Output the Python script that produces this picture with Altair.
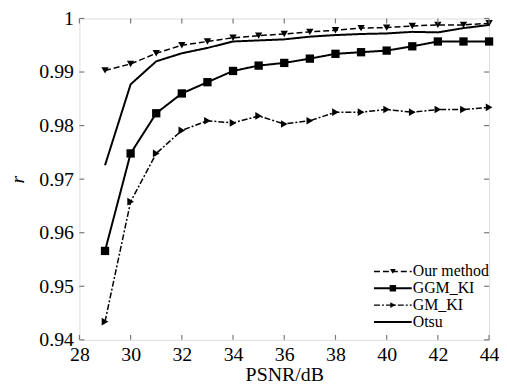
import altair as alt
import pandas as pd

psnr = list(range(29, 45))
our = [0.9903, 0.9915, 0.9935, 0.9950, 0.9957, 0.9964, 0.9968, 0.9971,
       0.9975, 0.9978, 0.9982, 0.9983, 0.9986, 0.9988, 0.9988, 0.9991]
ggm = [0.9566, 0.9748, 0.9823, 0.9860, 0.9881, 0.9902, 0.9912, 0.9917,
       0.9925, 0.9934, 0.9937, 0.9940, 0.9948, 0.9957, 0.9957, 0.9957]
gm = [0.9434, 0.9658, 0.9748, 0.9791, 0.9809, 0.9805, 0.9818, 0.9803,
      0.9809, 0.9825, 0.9825, 0.9830, 0.9825, 0.9830, 0.9830, 0.9834]
otsu = [0.9726, 0.9877, 0.9920, 0.9935, 0.9945, 0.9957, 0.9959, 0.9961,
        0.9966, 0.9969, 0.9971, 0.9972, 0.9975, 0.9974, 0.9982, 0.9988]

series_names = ["Our method", "GGM_KI", "GM_KI", "Otsu"]
x_ticks = [28, 30, 32, 34, 36, 38, 40, 42, 44]
y_ticks = [0.94, 0.95, 0.96, 0.97, 0.98, 0.99, 1.0]

W, H = 413, 324
FONT = "'Liberation Serif', 'Times New Roman', 'DejaVu Serif', serif"
GRAY = "#7a7a7a"

xs = alt.Scale(domain=[28, 44], nice=False, zero=False)
ys = alt.Scale(domain=[0.94, 1.0], nice=False, zero=False)

X = alt.X("x:Q", scale=xs,
          axis=alt.Axis(values=x_ticks, ticks=False, domain=False, grid=False,
                        labelFlush=False, labelFontSize=20, labelFont=FONT,
                        labelColor="black", labelPadding=5,
                        title="PSNR/dB", titleFont=FONT, titleFontSize=20,
                        titleFontWeight="normal", titleColor="black",
                        titlePadding=0))
Y = alt.Y("y:Q", scale=ys,
          axis=alt.Axis(values=y_ticks, format=".2~f", ticks=False, domain=False,
                        grid=False, labelFontSize=20, labelFont=FONT,
                        labelColor="black", labelPadding=6,
                        title="r", titleFont=FONT, titleFontSize=20,
                        titleFontStyle="italic", titleFontWeight="normal",
                        titleColor="black", titlePadding=11))

styles = {
    "Our method": dict(vals=our, dash=[6, 3], width=1.5, shape="triangle-down", size=55),
    "GGM_KI": dict(vals=ggm, dash=[1, 0], width=2, shape="square", size=70),
    "GM_KI": dict(vals=gm, dash=[6, 2, 2, 2], width=1.5, shape="triangle-right", size=60),
    "Otsu": dict(vals=otsu, dash=[1, 0], width=2, shape=None, size=0),
}

layers = []
for name in series_names:
    st = styles[name]
    df = pd.DataFrame({"x": psnr, "y": st["vals"]})
    layers.append(alt.Chart(df).mark_line(color="black", strokeWidth=st["width"],
                                          strokeDash=st["dash"]).encode(x=X, y=Y))
    if st["shape"]:
        layers.append(alt.Chart(df).mark_point(color="black", filled=True, opacity=1,
                                               shape=st["shape"], size=st["size"])
                      .encode(x=X, y=Y))

# inward ticks on all four sides
xt = pd.DataFrame({"x": x_ticks})
yt = pd.DataFrame({"y": y_ticks})
TL = 5
layers.append(alt.Chart(xt).mark_rule(color=GRAY, strokeWidth=1.2).encode(
    x=alt.X("x:Q", scale=xs), y=alt.value(H), y2=alt.value(H - TL)))
layers.append(alt.Chart(xt).mark_rule(color=GRAY, strokeWidth=1.2).encode(
    x=alt.X("x:Q", scale=xs), y=alt.value(0), y2=alt.value(TL)))
layers.append(alt.Chart(yt).mark_rule(color=GRAY, strokeWidth=1.2).encode(
    y=alt.Y("y:Q", scale=ys), x=alt.value(0), x2=alt.value(TL)))
layers.append(alt.Chart(yt).mark_rule(color=GRAY, strokeWidth=1.2).encode(
    y=alt.Y("y:Q", scale=ys), x=alt.value(W), x2=alt.value(W - TL)))

# manual legend
leg_y = [255, 272, 289, 306]
for i, name in enumerate(series_names):
    st = styles[name]
    ld = pd.DataFrame({"label": [name]})
    layers.append(alt.Chart(ld).mark_rule(color="black", strokeWidth=st["width"],
                                          strokeDash=st["dash"]).encode(
        x=alt.value(297), x2=alt.value(335), y=alt.value(leg_y[i])))
    if st["shape"]:
        layers.append(alt.Chart(ld).mark_point(color="black", filled=True, opacity=1,
                                               shape=st["shape"], size=st["size"] * 0.6)
                      .encode(x=alt.value(316), y=alt.value(leg_y[i])))
    layers.append(alt.Chart(ld).mark_text(align="left", baseline="middle", font=FONT,
                                          fontSize=16, color="black").encode(
        x=alt.value(336), y=alt.value(leg_y[i]), text="label:N"))

chart = alt.layer(*layers).properties(
    width=W, height=H,
    padding={"left": 72, "top": 9, "right": 10, "bottom": 46},
    autosize=alt.AutoSizeParams(type="none"),
).configure_view(stroke=GRAY, strokeWidth=1.5).configure(background="white")

chart.save("out.html", embed_options={"renderer": "svg", "actions": False})
